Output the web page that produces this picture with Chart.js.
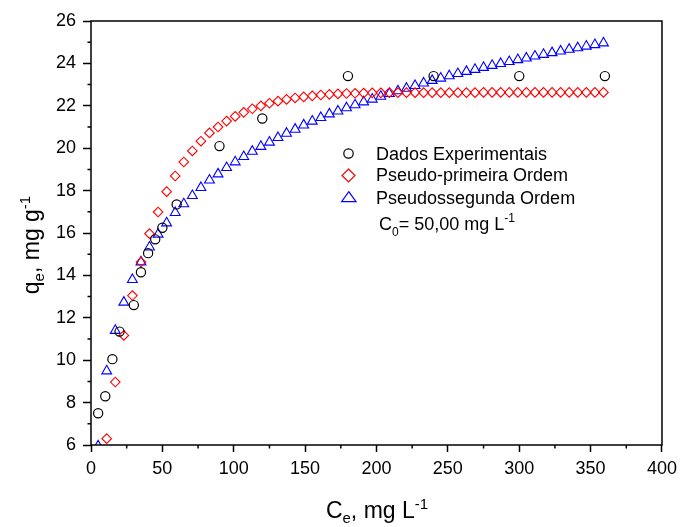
<!DOCTYPE html>
<html>
<head>
<meta charset="utf-8">
<script src="https://cdn.jsdelivr.net/npm/chart.js@4.4.0/dist/chart.umd.min.js"></script>
<style>
  html, body { margin: 0; padding: 0; background: #fff; }
</style>
</head>
<body>
<canvas id="myChart" width="683" height="527"></canvas>
<script>
'use strict';

// experimental points
const ceValues = [5, 10, 15, 20, 30, 35, 40, 45, 50, 60, 90, 120, 180, 240, 300, 360];
const qeValues = [7.5, 8.3, 10.05, 11.35, 12.6, 14.15, 15.05, 15.7, 16.25, 17.35, 20.1, 21.4, 23.4, 23.4, 23.4, 23.4];

// model curves (same x for both)
const modelCe = [5, 11, 17, 23, 29, 35, 41, 47, 53, 59, 65, 71, 77, 83, 89, 95, 101, 107, 113, 119,
  125, 131, 137, 143, 149, 155, 161, 167, 173, 179, 185, 191, 197, 203, 209, 215, 221, 227, 233, 239,
  245, 251, 257, 263, 269, 275, 281, 287, 293, 299, 305, 311, 317, 323, 329, 335, 341, 347, 353, 359];
const pseudoFirst = [null, 6.30, 8.97, 11.17, 13.05, 14.63, 15.97, 16.99, 17.95, 18.69, 19.35, 19.87, 20.33, 20.72, 21.00, 21.28, 21.50, 21.69, 21.86, 22.00,
  22.12, 22.22, 22.30, 22.37, 22.42, 22.47, 22.51, 22.54, 22.56, 22.58, 22.59, 22.60, 22.61, 22.61, 22.62, 22.62, 22.62, 22.62, 22.62, 22.62,
  22.62, 22.62, 22.62, 22.62, 22.62, 22.63, 22.63, 22.63, 22.63, 22.63, 22.63, 22.63, 22.63, 22.63, 22.63, 22.63, 22.63, 22.63, 22.63, 22.63];
const pseudoSecond = [5.95, 9.49, 11.40, 12.73, 13.80, 14.63, 15.33, 15.94, 16.47, 16.96, 17.37, 17.76, 18.14, 18.49, 18.78, 19.08, 19.35, 19.60, 19.85, 20.08,
  20.28, 20.50, 20.70, 20.89, 21.09, 21.27, 21.44, 21.61, 21.75, 21.90, 22.04, 22.18, 22.31, 22.44, 22.57, 22.70, 22.82, 22.95, 23.07, 23.19,
  23.30, 23.41, 23.515, 23.615, 23.71, 23.805, 23.90, 23.99, 24.08, 24.17, 24.25, 24.34, 24.42, 24.50, 24.58, 24.66, 24.73, 24.81, 24.88, 24.96];

const xMinorTicks = [25, 75, 125, 175, 225, 275, 325, 375];
const yMinorTicks = [7, 9, 11, 13, 15, 17, 19, 21, 23, 25];

const FONT = 'Liberation Sans, Arial, sans-serif';

function toPoints(xs, ys) {
  let pts = [];
  for (let i = 0; i < xs.length; i++) {
    if (ys[i] !== null) pts.push({ x: xs[i], y: ys[i] });
  }
  return pts;
}

// draws text pieces with sub/superscripts, centered on x if center is true
function drawRich(c, parts, x, y, center) {
  let width = 0;
  parts.forEach(function (p) {
    c.font = p.size + 'px ' + FONT;
    width += c.measureText(p.t).width;
  });
  let cx = center ? x - width / 2 : x;
  parts.forEach(function (p) {
    c.font = p.size + 'px ' + FONT;
    c.fillText(p.t, cx, y + (p.dy || 0));
    cx += c.measureText(p.t).width;
  });
}

const extras = {
  id: 'extras',
  afterDraw(chart) {
    const c = chart.ctx;
    const a = chart.chartArea;
    const xs = chart.scales.x;
    const ys = chart.scales.y;
    c.save();
    c.strokeStyle = '#000';
    c.fillStyle = '#000';
    c.lineWidth = 1.5;
    c.strokeRect(a.left, a.top, a.right - a.left, a.bottom - a.top);

    // minor ticks
    c.beginPath();
    yMinorTicks.forEach(function (v) {
      let py = ys.getPixelForValue(v);
      c.moveTo(a.left - 3.5, py);
      c.lineTo(a.left, py);
    });
    xMinorTicks.forEach(function (v) {
      let px = xs.getPixelForValue(v);
      c.moveTo(px, a.bottom);
      c.lineTo(px, a.bottom + 3.5);
    });
    c.stroke();

    // axis titles
    c.textBaseline = 'alphabetic';
    c.textAlign = 'left';
    drawRich(c, [
      { t: 'C', size: 23 }, { t: 'e', size: 15, dy: 5 },
      { t: ', mg L', size: 23 }, { t: '-1', size: 15, dy: -9 }
    ], 377, 518, true);
    c.save();
    c.translate(39, 245);
    c.rotate(-Math.PI / 2);
    drawRich(c, [
      { t: 'q', size: 23 }, { t: 'e', size: 15, dy: 5 },
      { t: ', mg g', size: 23 }, { t: '-1', size: 15, dy: -9 }
    ], 0, 0, true);
    c.restore();

    // legend
    c.lineWidth = 1.2;
    c.strokeStyle = '#000';
    c.beginPath();
    c.arc(348.5, 153.5, 4.7, 0, Math.PI * 2);
    c.stroke();
    c.strokeStyle = '#ff0000';
    c.beginPath();
    c.moveTo(348.5, 169);
    c.lineTo(355, 175.5);
    c.lineTo(348.5, 182);
    c.lineTo(342, 175.5);
    c.closePath();
    c.stroke();
    c.strokeStyle = '#0000ff';
    c.beginPath();
    c.moveTo(348.8, 191.7);
    c.lineTo(356, 201.7);
    c.lineTo(341.6, 201.7);
    c.closePath();
    c.stroke();

    c.font = '18px ' + FONT;
    c.fillText('Dados Experimentais', 376, 159.5);
    c.fillText('Pseudo-primeira Ordem', 376, 181);
    c.fillText('Pseudossegunda Ordem', 376, 203.5);
    drawRich(c, [
      { t: 'C', size: 18 }, { t: '0', size: 12, dy: 6 },
      { t: '= 50,00 mg L', size: 18 }, { t: '-1', size: 12, dy: -8 }
    ], 379, 229.5, false);
    c.restore();
  }
};

new Chart(document.getElementById('myChart'), {
  type: 'scatter',
  data: {
    datasets: [{
      label: 'Dados Experimentais',
      data: toPoints(ceValues, qeValues),
      pointStyle: 'circle',
      pointRadius: 4.6,
      pointBorderColor: '#000',
      pointBackgroundColor: 'rgba(0,0,0,0)',
      pointBorderWidth: 1.2
    }, {
      label: 'Pseudo-primeira Ordem',
      data: toPoints(modelCe, pseudoFirst),
      pointStyle: 'rectRot',
      pointRadius: 4.8,
      pointBorderColor: '#ff0000',
      pointBackgroundColor: 'rgba(0,0,0,0)',
      pointBorderWidth: 1.1
    }, {
      label: 'Pseudossegunda Ordem',
      data: toPoints(modelCe, pseudoSecond),
      pointStyle: 'triangle',
      pointRadius: 5.7,
      pointBorderColor: '#0000ff',
      pointBackgroundColor: 'rgba(0,0,0,0)',
      pointBorderWidth: 1.1
    }]
  },
  options: {
    responsive: false,
    animation: false,
    devicePixelRatio: 1,
    layout: { padding: { left: 0, top: 21, right: 19, bottom: 0 } },
    plugins: { legend: { display: false }, tooltip: { enabled: false } },
    scales: {
      x: {
        type: 'linear',
        min: 0,
        max: 400,
        afterFit: function (s) { s.height = 82; },
        ticks: { stepSize: 50, color: '#000', padding: 6, font: { family: FONT, size: 18 } },
        grid: { drawOnChartArea: false, tickLength: 7, tickColor: '#000', tickWidth: 1.5 },
        border: { display: false }
      },
      y: {
        min: 6,
        max: 26,
        afterFit: function (s) { s.width = 91; },
        ticks: { stepSize: 2, color: '#000', padding: 7, font: { family: FONT, size: 18 } },
        grid: { drawOnChartArea: false, tickLength: 8, tickColor: '#000', tickWidth: 1.5 },
        border: { display: false }
      }
    }
  },
  plugins: [extras]
});
</script>
</body>
</html>
